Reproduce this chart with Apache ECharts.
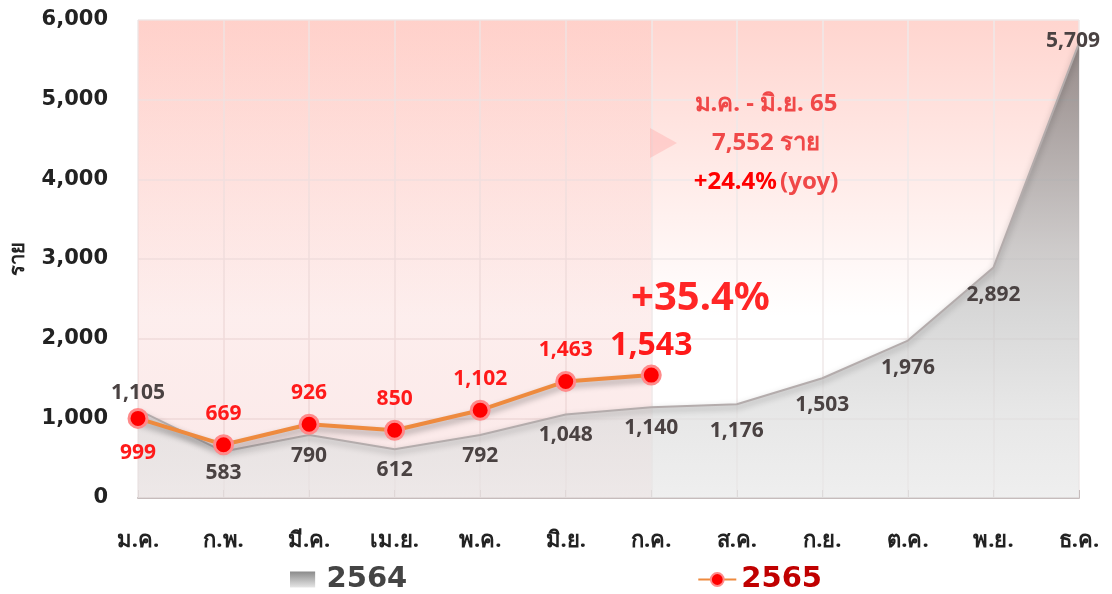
<!DOCTYPE html>
<html>
<head>
<meta charset="utf-8">
<script src="https://cdn.jsdelivr.net/npm/echarts@6/dist/echarts.min.js"></script>
<style>
  html, body { margin: 0; padding: 0; background: #fff; }
  #chart { width: 1112px; height: 594px; }
</style>
</head>
<body>
<div id="chart"></div>
<script>
const months = ['ม.ค.', 'ก.พ.', 'มี.ค.', 'เม.ย.', 'พ.ค.', 'มิ.ย.', 'ก.ค.', 'ส.ค.', 'ก.ย.', 'ต.ค.', 'พ.ย.', 'ธ.ค.'];
const cases2564 = [1105, 583, 790, 612, 792, 1048, 1140, 1176, 1503, 1976, 2892, 5709];
const cases2565 = [999, 669, 926, 850, 1102, 1463, 1543];
const yTicks = [0, 1000, 2000, 3000, 4000, 5000, 6000];

const FONT = "'Noto Sans', sans-serif";
const NUM_FONT = "'DejaVu Sans', 'Noto Sans', sans-serif";
const fmt = v => v.toLocaleString('en-US');

const chart = echarts.init(document.getElementById('chart'));

const greyData = cases2564.map((v, i) => {
  if (i === 0) return { value: v, label: { position: 'top', distance: 6 } };
  if (i === cases2564.length - 1) return { value: v, label: { position: 'inside', offset: [-6, -2] } };
  if (i >= 7) return { value: v, label: { distance: 16 } };
  return v;
});

const redData = cases2565.map((v, i) => {
  if (i === 0) return { value: v, label: { position: 'bottom', distance: 14 } };
  if (i === cases2565.length - 1) return { value: v, label: { fontSize: 32, distance: 3 } };
  return v;
});

const option = {
  textStyle: { fontFamily: FONT },
  animation: false,
  grid: {
    left: 135, right: 33, top: 20, bottom: 96,
    show: true,
    borderWidth: 0,
    backgroundColor: new echarts.graphic.LinearGradient(0, 0, 0, 1, [
      { offset: 0, color: '#ffd5cf' },
      { offset: 0.62, color: '#ffffff' },
      { offset: 1, color: '#ffffff' }
    ])
  },
  legend: {
    top: 560,
    left: 'center',
    itemGap: 290,
    itemWidth: 38,
    itemHeight: 16,
    textStyle: { fontFamily: NUM_FONT, fontSize: 29, fontWeight: 'bold' },
    data: [
      {
        name: '2564',
        icon: 'path://M0,0h22v14h-22z',
        itemStyle: {
          color: new echarts.graphic.LinearGradient(0, 0, 0, 1, [
            { offset: 0, color: '#8a8a8a' },
            { offset: 1, color: '#e6e6e6' }
          ])
        },
        textStyle: { color: '#444444' }
      },
      { name: '2565', textStyle: { color: '#c00000' } }
    ]
  },
  xAxis: {
    type: 'category',
    data: months,
    boundaryGap: false,
    axisLine: { lineStyle: { color: '#c6bcbc', width: 2 } },
    axisTick: { inside: true, length: 8, lineStyle: { color: '#c6bcbc' } },
    splitLine: { show: true, lineStyle: { color: '#efe9e9', width: 1.5 } },
    axisLabel: { margin: 32, fontSize: 22, fontWeight: 'bold', color: '#222222', fontFamily: FONT }
  },
  yAxis: {
    type: 'value',
    min: yTicks[0],
    max: yTicks[yTicks.length - 1],
    interval: 1000,
    name: 'ราย',
    nameLocation: 'middle',
    nameGap: 110,
    nameTextStyle: { fontSize: 20, fontWeight: 'bold', color: '#222222', fontFamily: FONT },
    axisLine: { show: false },
    axisTick: { show: false },
    splitLine: { lineStyle: { color: '#efe9e9', width: 1.5 } },
    axisLabel: {
      margin: 30, fontSize: 21, fontWeight: 'bold', color: '#222222', fontFamily: NUM_FONT,
      formatter: v => fmt(v)
    }
  },
  series: [
    {
      name: '2564',
      type: 'line',
      data: greyData,
      symbol: 'circle',
      symbolSize: 1,
      showSymbol: true,
      itemStyle: { color: 'rgba(0,0,0,0)' },
      z: 2,
      lineStyle: {
        color: '#b4acac', width: 2,
        shadowColor: 'rgba(0,0,0,0.35)', shadowBlur: 6, shadowOffsetY: 3
      },
      areaStyle: {
        color: new echarts.graphic.LinearGradient(0, 0, 0, 1, [
          { offset: 0, color: '#6a6a6a' },
          { offset: 0.45, color: '#b8b8b8' },
          { offset: 0.8, color: '#dcdcdc' },
          { offset: 1, color: '#e8e8e8' }
        ])
      },
      label: {
        show: true,
        position: 'bottom',
        distance: 10,
        fontSize: 21,
        fontWeight: 'bold',
        color: '#4a4242',
        fontFamily: FONT,
        formatter: p => fmt(p.value)
      }
    },
    {
      name: '2565',
      type: 'line',
      data: redData,
      z: 4,
      symbol: 'circle',
      symbolSize: 18,
      itemStyle: { color: '#ff0000', borderColor: '#ff8a8a', borderWidth: 3 },
      lineStyle: {
        color: '#ee8a3e', width: 4,
        shadowColor: 'rgba(0,0,0,0.35)', shadowBlur: 6, shadowOffsetY: 4
      },
      label: {
        show: true,
        position: 'top',
        distance: 10,
        fontSize: 21,
        fontWeight: 'bold',
        color: '#ff1a1a',
        fontFamily: FONT,
        formatter: p => fmt(p.value)
      },
      markArea: {
        silent: true,
        itemStyle: {
          color: new echarts.graphic.LinearGradient(0, 0, 0, 1, [
            { offset: 0, color: 'rgba(255,170,160,0.1)' },
            { offset: 1, color: 'rgba(235,150,150,0.22)' }
          ])
        },
        data: [[{ xAxis: months[0] }, { xAxis: months[6] }]]
      }
    }
  ],
  graphic: [
    {
      type: 'polygon',
      shape: { points: [[650, 128], [677, 143], [650, 158]] },
      style: { fill: 'rgba(255,150,150,0.3)' },
      z: 1
    },
    {
      type: 'text',
      left: 631, top: 279,
      style: {
        text: '+35.4%',
        fontSize: 40, fontWeight: 'bold', fill: '#ff2626', fontFamily: FONT,
        shadowColor: 'rgba(0,0,0,0.2)', shadowBlur: 3, shadowOffsetY: 2
      },
      z: 10
    },
    {
      type: 'text',
      x: 766, y: 85,
      style: {
        text: '{a|ม.ค. - มิ.ย. 65}\n{a|7,552 ราย}\n{b|+24.4%} {a|(yoy)}',
        align: 'center',
        lineHeight: 39,
        fontFamily: FONT,
        rich: {
          a: { fontSize: 24, fontWeight: 'bold', fill: '#f04848', lineHeight: 39, fontFamily: FONT },
          b: { fontSize: 24, fontWeight: 'bold', fill: '#ff0000', lineHeight: 39, fontFamily: FONT }
        }
      },
      z: 10
    }
  ]
};

chart.setOption(option);
</script>
</body>
</html>
